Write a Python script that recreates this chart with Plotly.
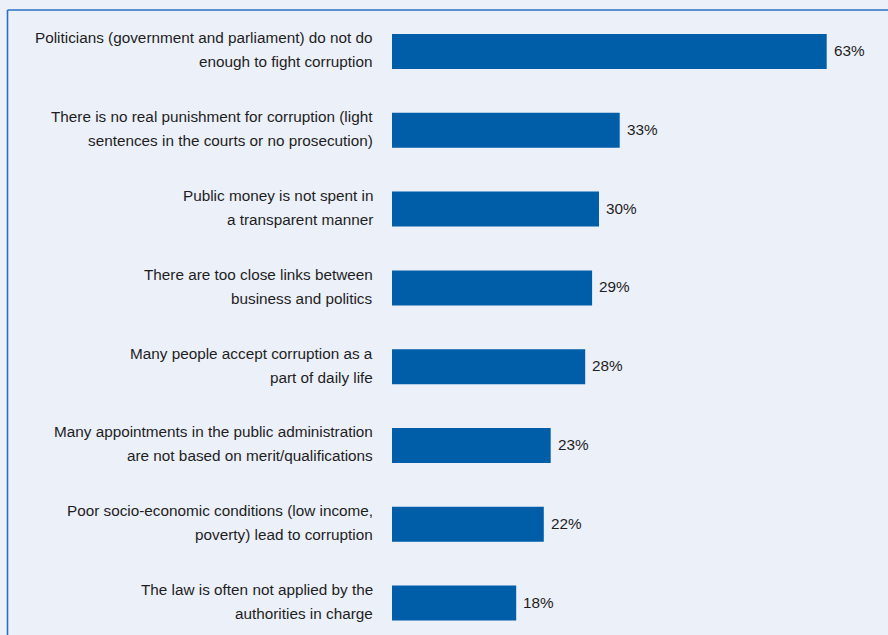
import plotly.graph_objects as go

# Reasons cited for corruption, top to bottom
categories = [
    "Politicians (government and parliament) do not do<br>enough to fight corruption",
    "There is no real punishment for corruption (light<br>sentences in the courts or no prosecution)",
    "Public money is not spent in<br>a transparent manner",
    "There are too close links between<br>business and politics",
    "Many people accept corruption as a<br>part of daily life",
    "Many appointments in the public administration<br>are not based on merit/qualifications",
    "Poor socio-economic conditions (low income,<br>poverty) lead to corruption",
    "The law is often not applied by the<br>authorities in charge",
]
shares = [63, 33, 30, 29, 28, 23, 22, 18]
positions = list(range(len(categories)))

BG = "#ECF0F9"
BAR = "#005DA8"
FRAME = "#2A6FC2"
TEXT = "#1E1E1E"
FONT = "Liberation Sans, Arial, sans-serif"
FS = 15.3

W, H = 888, 635
ML, MR, MT, MB = 392, 13, 12, 0
plot_w = W - ML - MR
plot_h = H - MT - MB
LINE_GAP = 24  # pixel distance between the two lines of a label


def px_to_paper_x(px):
    return (px - ML) / plot_w


def px_to_paper_y(py):
    return 1 - (py - MT) / plot_h


fig = go.Figure(
    go.Bar(
        x=shares,
        y=positions,
        orientation="h",
        width=0.444,
        marker=dict(color=BAR, line=dict(width=0)),
        hoverinfo="skip",
    )
)

annotations = []
# Category labels, right-aligned to the left of the bars, one annotation per line
for pos, label in zip(positions, categories):
    lines = label.split("<br>")
    n = len(lines)
    for i, line in enumerate(lines):
        offset = ((n - 1) / 2 - i) * LINE_GAP + 1.5
        annotations.append(dict(
            x=px_to_paper_x(375), xref="paper", xanchor="right",
            y=pos, yref="y", yanchor="middle", yshift=offset,
            text=line, showarrow=False,
            font=dict(family=FONT, size=FS, color=TEXT),
            align="right",
        ))

# Value labels at the end of each bar
for pos, v in zip(positions, shares):
    annotations.append(dict(
        x=v, xref="x", xanchor="left", xshift=5,
        y=pos, yref="y", yanchor="middle", yshift=1,
        text=f"{v}%", showarrow=False,
        font=dict(family=FONT, size=FS, color=TEXT),
    ))

# Frame lines along the top and left edge of the panel
shapes = [
    dict(type="line", xref="paper", yref="paper",
         x0=px_to_paper_x(7.5), x1=px_to_paper_x(W + 5),
         y0=px_to_paper_y(10), y1=px_to_paper_y(10),
         line=dict(color=FRAME, width=1.6)),
    dict(type="line", xref="paper", yref="paper",
         x0=px_to_paper_x(7.5), x1=px_to_paper_x(7.5),
         y0=px_to_paper_y(10), y1=px_to_paper_y(H + 5),
         line=dict(color=FRAME, width=1.6)),
]

fig.update_layout(
    width=W,
    height=H,
    margin=dict(l=ML, r=MR, t=MT, b=MB, pad=0, autoexpand=False),
    paper_bgcolor=BG,
    plot_bgcolor=BG,
    showlegend=False,
    font=dict(family=FONT, size=FS, color=TEXT),
    annotations=annotations,
    shapes=shapes,
)
fig.update_xaxes(range=[0, 70], visible=False, fixedrange=True)
fig.update_yaxes(
    range=[7.405, -0.501],
    showticklabels=False,
    showgrid=False,
    zeroline=False,
    showline=False,
    ticks="",
    fixedrange=True,
)

fig.write_html("out.html")
